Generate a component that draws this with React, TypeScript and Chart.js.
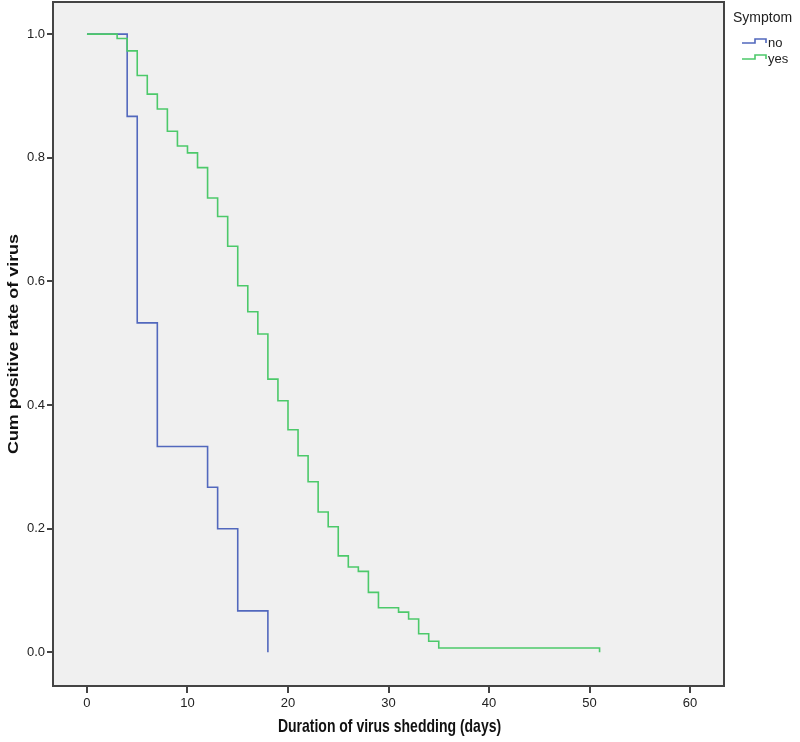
import React, { useEffect, useRef } from "react";
import { Chart, registerables } from "chart.js";

Chart.register(...registerables);

// ---------- data ----------
const seriesNames = ["no", "yes"];
const legendTitle = "Symptom";
const xTitle = "Duration of virus shedding (days)";
const yTitle = "Cum positive rate of virus";

const noDays = [0, 4, 5, 7, 12, 13, 15, 18];
const noSurvival = [1.0, 0.867, 0.533, 0.333, 0.267, 0.2, 0.067, 0.0];

const yesDays = [
  0, 3, 4, 5, 6, 7, 8, 9, 10, 11, 12, 13, 14, 15, 16, 17, 18, 19, 20, 21, 22,
  23, 24, 25, 26, 27, 28, 29, 31, 32, 33, 34, 35, 51,
];
const yesSurvival = [
  1.0, 0.993, 0.973, 0.933, 0.903, 0.879, 0.843, 0.819, 0.808, 0.784, 0.735,
  0.705, 0.657, 0.593, 0.551, 0.515, 0.442, 0.407, 0.36, 0.318, 0.276, 0.227,
  0.203, 0.156, 0.138, 0.131, 0.097, 0.072, 0.065, 0.054, 0.03, 0.018, 0.007,
  0.0,
];

const xTickValues = [0, 10, 20, 30, 40, 50, 60];
const yTickValues = [0, 0.2, 0.4, 0.6, 0.8, 1.0];

const seriesColors = ["#5268bd", "#4cc96a"];

const FONT = "'Liberation Sans', Arial, sans-serif";
const STRETCH = 1.28;

function toPoints(xs: number[], ys: number[]) {
  return xs.map((x, i) => ({ x, y: ys[i] }));
}

const framePlugin = {
  id: "framePlugin",
  beforeDraw(chart: any) {
    const { ctx, chartArea } = chart;
    ctx.save();
    ctx.fillStyle = "#f0f0f0";
    ctx.fillRect(
      chartArea.left,
      chartArea.top,
      chartArea.right - chartArea.left,
      chartArea.bottom - chartArea.top
    );
    ctx.restore();
  },
  afterDraw(chart: any) {
    const { ctx, chartArea } = chart;
    ctx.save();
    ctx.strokeStyle = "#444";
    ctx.lineWidth = 2;
    ctx.strokeRect(
      chartArea.left,
      chartArea.top,
      chartArea.right - chartArea.left,
      chartArea.bottom - chartArea.top
    );

    // axis titles (source image is stretched vertically)
    ctx.fillStyle = "#111";
    ctx.font = `bold 14px ${FONT}`;
    ctx.textAlign = "center";
    ctx.textBaseline = "middle";
    ctx.save();
    ctx.translate((chartArea.left + chartArea.right) / 2 + 1, 727);
    ctx.scale(1, STRETCH);
    ctx.fillText(xTitle, 0, 0);
    ctx.restore();

    ctx.save();
    ctx.translate(14, (chartArea.top + chartArea.bottom) / 2);
    ctx.rotate(-Math.PI / 2);
    ctx.scale(STRETCH, 1);
    ctx.fillText(yTitle, 0, 0);
    ctx.restore();

    // legend
    const lx = chartArea.right + 9;
    ctx.fillStyle = "#222";
    ctx.font = `14px ${FONT}`;
    ctx.textBaseline = "middle";
    ctx.textAlign = "left";
    ctx.fillText(legendTitle, lx, 18);
    seriesNames.forEach((name, i) => {
      const cy = 43 + i * 16;
      const x0 = lx + 9;
      ctx.strokeStyle = seriesColors[i];
      ctx.lineWidth = 1.6;
      ctx.beginPath();
      ctx.moveTo(x0, cy);
      ctx.lineTo(x0 + 13, cy);
      ctx.lineTo(x0 + 13, cy - 4);
      ctx.lineTo(x0 + 24, cy - 4);
      ctx.lineTo(x0 + 24, cy);
      ctx.stroke();
      ctx.fillStyle = "#222";
      ctx.font = `13px ${FONT}`;
      ctx.fillText(name, x0 + 26, cy);
    });
    ctx.restore();
  },
};

export default function App() {
  const ref = useRef<HTMLCanvasElement | null>(null);
  useEffect(() => {
    if (!ref.current) return;
    const chart = new Chart(ref.current, {
      type: "line",
      data: {
        datasets: [
          {
            label: seriesNames[0],
            data: toPoints(noDays, noSurvival),
            borderColor: seriesColors[0],
            borderWidth: 1.6,
            pointRadius: 0,
            stepped: "before",
            fill: false,
            order: 1,
          },
          {
            label: seriesNames[1],
            data: toPoints(yesDays, yesSurvival),
            borderColor: seriesColors[1],
            borderWidth: 1.6,
            pointRadius: 0,
            stepped: "before",
            fill: false,
            order: 0,
          },
        ],
      },
      options: {
        responsive: false,
        animation: false,
        devicePixelRatio: 1,
        layout: { padding: { top: 2, right: 76, left: 0, bottom: 0 } },
        plugins: {
          legend: { display: false },
          tooltip: { enabled: false },
        },
        scales: {
          x: {
            type: "linear",
            min: -3.38,
            max: 63.38,
            afterBuildTicks: (s: any) => {
              s.ticks = xTickValues.map((v) => ({ value: v }));
            },
            afterFit: (s: any) => {
              s.height = 56;
              s.paddingLeft = 0;
              s.paddingRight = 0;
            },
            ticks: {
              font: { family: FONT, size: 13 },
              color: "#222",
              padding: 3,
              maxRotation: 0,
              autoSkip: false,
              callback: (v: any) => String(v),
            },
            grid: {
              drawOnChartArea: false,
              drawTicks: true,
              tickLength: 7,
              color: "#444",
              lineWidth: 2,
            },
            border: { display: false },
            title: { display: false },
          },
          y: {
            type: "linear",
            min: -0.0545,
            max: 1.052,
            afterBuildTicks: (s: any) => {
              s.ticks = yTickValues.map((v) => ({ value: v }));
            },
            afterFit: (s: any) => {
              s.width = 53;
              s.paddingTop = 0;
              s.paddingBottom = 0;
            },
            ticks: {
              font: { family: FONT, size: 13 },
              color: "#222",
              padding: 2,
              callback: (v: any) => Number(v).toFixed(1),
            },
            grid: {
              drawOnChartArea: false,
              drawTicks: true,
              tickLength: 6,
              color: "#444",
              lineWidth: 2,
            },
            border: { display: false },
            title: { display: false },
          },
        },
      },
      plugins: [framePlugin],
    });
    return () => chart.destroy();
  }, []);
  return (
    <div style={{ position: "absolute", left: 0, top: 0, width: 800, height: 742 }}>
      <canvas ref={ref} width={800} height={742} style={{ width: 800, height: 742 }} />
    </div>
  );
}
